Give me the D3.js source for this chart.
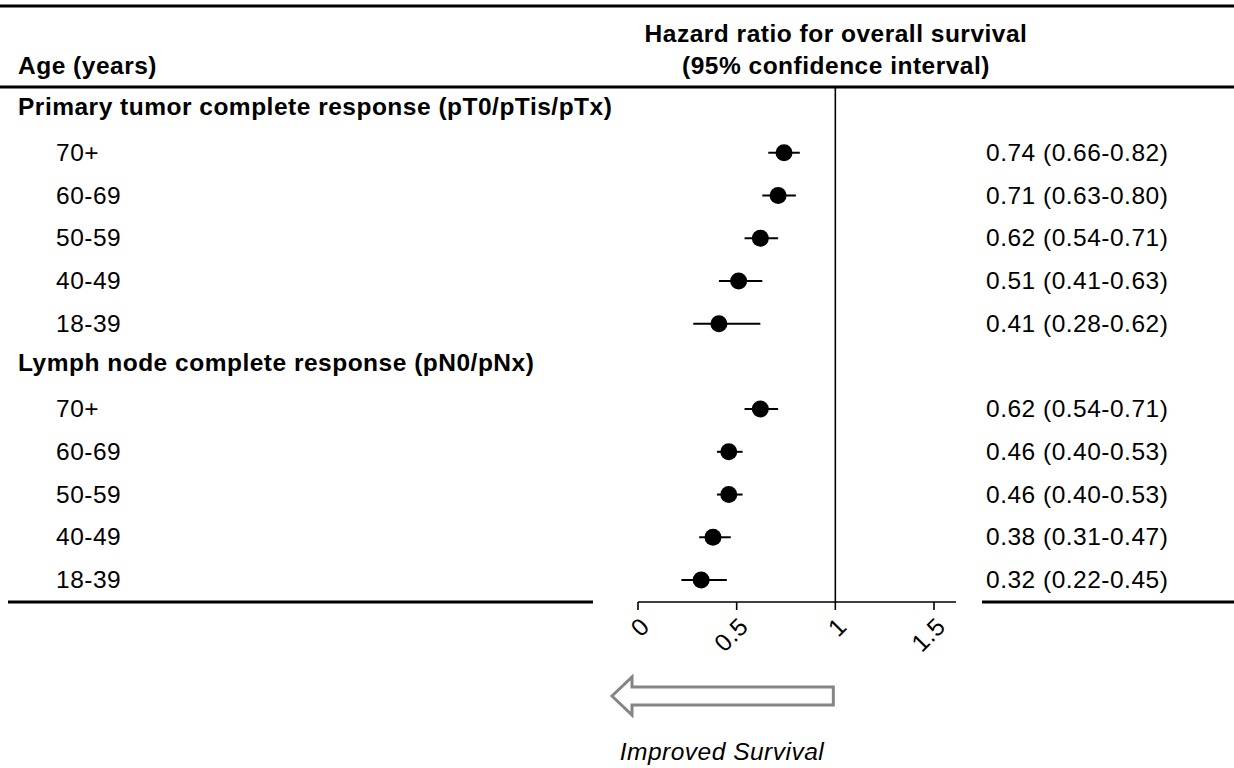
<!DOCTYPE html>
<html>
<head>
<meta charset="utf-8">
<script src="https://cdn.jsdelivr.net/npm/d3@7"></script>
<style>
  body { margin: 0; background: #fff; }
  svg { font-family: "Liberation Sans", Arial, sans-serif; letter-spacing: 0.5px; }
</style>
</head>
<body>
<svg id="chart" width="1234" height="768"></svg>
<script>
const w = 1234;
const h = 768;

// data
const groups = ["Primary tumor complete response (pT0/pTis/pTx)", "Lymph node complete response (pN0/pNx)"];
const ages = ["70+", "60-69", "50-59", "40-49", "18-39"];
const hrPrimary = [0.74, 0.71, 0.62, 0.51, 0.41];
const lowPrimary = [0.66, 0.63, 0.54, 0.41, 0.28];
const highPrimary = [0.82, 0.80, 0.71, 0.63, 0.62];
const hrNode = [0.62, 0.46, 0.46, 0.38, 0.32];
const lowNode = [0.54, 0.40, 0.40, 0.31, 0.22];
const highNode = [0.71, 0.53, 0.53, 0.47, 0.45];
const ticks = [0, 0.5, 1, 1.5];

// build rows: group header then its ages
let rows = [];
[[hrPrimary, lowPrimary, highPrimary], [hrNode, lowNode, highNode]].forEach((s, g) => {
    rows.push({ id: "g" + g, header: true, label: groups[g] });
    ages.forEach((a, i) => {
        rows.push({ id: g + "-" + i, header: false, label: a, hr: s[0][i], lo: s[1][i], hi: s[2][i] });
    });
});

const svg = d3.select("#chart");

const x = d3.scaleLinear().domain([0, 1.5]).range([638, 934]);
const y = d3.scalePoint().domain(rows.map(d => d.id)).range([110, 580]);

const fs = 24.5;

// horizontal rules
svg.append("line").attr("x1", 0).attr("x2", w).attr("y1", 6).attr("y2", 6)
    .attr("stroke", "#000").attr("stroke-width", 3);
svg.append("line").attr("x1", 0).attr("x2", w).attr("y1", 87).attr("y2", 87)
    .attr("stroke", "#000").attr("stroke-width", 3);
svg.append("line").attr("x1", 8).attr("x2", 593).attr("y1", 602).attr("y2", 602)
    .attr("stroke", "#000").attr("stroke-width", 3);
svg.append("line").attr("x1", 982).attr("x2", w).attr("y1", 602).attr("y2", 602)
    .attr("stroke", "#000").attr("stroke-width", 3);

// header texts
svg.append("text").attr("x", 18).attr("y", 74).attr("font-size", fs).attr("font-weight", "bold")
    .text("Age (years)");
svg.append("text").attr("x", 836).attr("y", 42).attr("font-size", fs).attr("font-weight", "bold")
    .attr("text-anchor", "middle").text("Hazard ratio for overall survival");
svg.append("text").attr("x", 836).attr("y", 74).attr("font-size", fs).attr("font-weight", "bold")
    .attr("text-anchor", "middle").text("(95% confidence interval)");

// reference line at HR = 1
svg.append("line").attr("x1", x(1)).attr("x2", x(1)).attr("y1", 88).attr("y2", 602)
    .attr("stroke", "#000").attr("stroke-width", 1.6);

// x axis
const axis = svg.append("g").attr("transform", "translate(0,602)");
axis.append("line").attr("x1", x(0)).attr("x2", 956).attr("stroke", "#000").attr("stroke-width", 1.6);
axis.selectAll("line.tick").data(ticks).enter().append("line")
    .attr("class", "tick")
    .attr("x1", d => x(d)).attr("x2", d => x(d)).attr("y1", 0).attr("y2", 8)
    .attr("stroke", "#000").attr("stroke-width", 1.6);
axis.selectAll("text").data(ticks).enter().append("text")
    .attr("transform", d => "translate(" + (x(d) + 13) + ",26) rotate(-45)")
    .attr("text-anchor", "end")
    .attr("font-size", fs)
    .text(d => d);

// rows
const row = svg.selectAll("g.row").data(rows).enter().append("g")
    .attr("class", "row")
    .attr("transform", d => "translate(0," + y(d.id) + ")");

row.append("text")
    .attr("x", d => d.header ? 18 : 56)
    .attr("y", d => d.header ? -3 : 0)
    .attr("dy", "0.33em")
    .attr("font-size", fs)
    .attr("font-weight", d => d.header ? "bold" : "normal")
    .text(d => d.label);

const data = row.filter(d => !d.header);
data.append("line")
    .attr("x1", d => x(d.lo)).attr("x2", d => x(d.hi))
    .attr("stroke", "#000").attr("stroke-width", 2);
data.append("circle")
    .attr("cx", d => x(d.hr)).attr("r", 8.5).attr("fill", "#000");
data.append("text")
    .attr("x", 986)
    .attr("dy", "0.33em")
    .attr("font-size", fs)
    .text(d => d.hr.toFixed(2) + " (" + d.lo.toFixed(2) + "-" + d.hi.toFixed(2) + ")");

// improved survival arrow
const ay = 696;
const arrow = [[x(1) - 2, ay - 9], [632, ay - 9], [632, ay - 19], [612, ay], [632, ay + 19], [632, ay + 9], [x(1) - 2, ay + 9]];
svg.append("path")
    .attr("d", d3.line()(arrow) + "Z")
    .attr("fill", "none").attr("stroke", "#858585").attr("stroke-width", 3);

svg.append("text").attr("x", 722).attr("y", 760).attr("text-anchor", "middle")
    .attr("font-size", fs).attr("font-style", "italic").text("Improved Survival");
</script>
</body>
</html>
